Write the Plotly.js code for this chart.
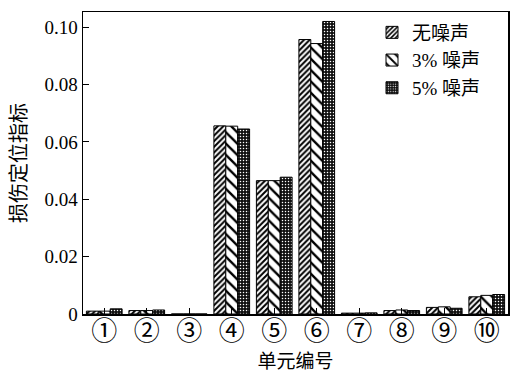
<!DOCTYPE html>
<html><head><meta charset="utf-8">
<script src="https://cdn.plot.ly/plotly-3.0.1.min.js"></script>
<style>body{margin:0;background:#fff}#c{width:527px;height:373px}</style>
</head><body><div id="c"></div>
<script>
const categories = ['①','②','③','④','⑤','⑥','⑦','⑧','⑨','⑩'];
const seriesNames = ['无噪声','3% 噪声','5% 噪声'];
const noNoise = [0.0010,0.0012,0.0000,0.0656,0.0465,0.0957,0.0003,0.0012,0.0023,0.0060];
const noise3 = [0.0010,0.0012,0.0000,0.0655,0.0465,0.0943,0.0003,0.0014,0.0025,0.0065];
const noise5 = [0.0018,0.0014,0.0000,0.0645,0.0477,0.1020,0.0004,0.0012,0.0020,0.0068];
const yTicks = [0,0.02,0.04,0.06,0.08,0.10];
const yTickText = ['0','0.02','0.04','0.06','0.08','0.10'];

const F = 'Times New Roman, Liberation Serif, Noto Sans CJK SC, serif';
const CJK = 'Noto Sans CJK SC';
const mk = (shape, bg, fg, size, sol) => ({
  color: bg, line:{color:'#000', width:1},
  pattern:{shape:shape, bgcolor:bg, fgcolor:fg, size:size, solidity:sol, fillmode:'replace'}
});
const data = [
  {type:'bar', name:seriesNames[0], x:categories, y:noNoise, marker:mk('/', '#fff', '#000', 4, 0.5)},
  {type:'bar', name:seriesNames[1], x:categories, y:noise3, marker:mk('\\', '#fff', '#000', 8, 0.3)},
  {type:'bar', name:seriesNames[2], x:categories, y:noise5, marker:mk('.', '#111', '#fff', 3, 0.2)}
];
const layout = {
  width:527, height:373,
  margin:{l:83, r:19, t:12, b:59},
  paper_bgcolor:'#fff', plot_bgcolor:'#fff',
  barmode:'group', bargap:0.16, bargroupgap:0,
  showlegend:true,
  legend:{x:0.68, y:0.995, xanchor:'left', yanchor:'top', bgcolor:'rgba(0,0,0,0)',
          font:{family:F, size:19, color:'#000'}, tracegroupgap:0, itemwidth:30},
  xaxis:{type:'category', range:[-0.5,9.5], showline:true, mirror:true, linecolor:'#000', linewidth:1.5,
         ticks:'inside', ticklen:6, tickcolor:'#000', showgrid:false, zeroline:false,
         tickfont:{family:CJK, size:26, color:'#000'}, ticklabelstandoff:-7,
         title:{text:'单元编号', font:{family:CJK, size:19, color:'#000'}, standoff:0}},
  yaxis:{range:[0,0.1053], showline:true, mirror:true, linecolor:'#000', linewidth:1.5,
         ticks:'inside', ticklen:6, tickcolor:'#000', showgrid:false, zeroline:false,
         tickvals:yTicks, ticktext:yTickText,
         tickfont:{family:F, size:19, color:'#000'},
         title:{text:'损伤定位指标', font:{family:CJK, size:20, color:'#000'}, standoff:12}}
};
Plotly.newPlot('c', data, layout, {displayModeBar:false, staticPlot:true});
</script></body></html>
